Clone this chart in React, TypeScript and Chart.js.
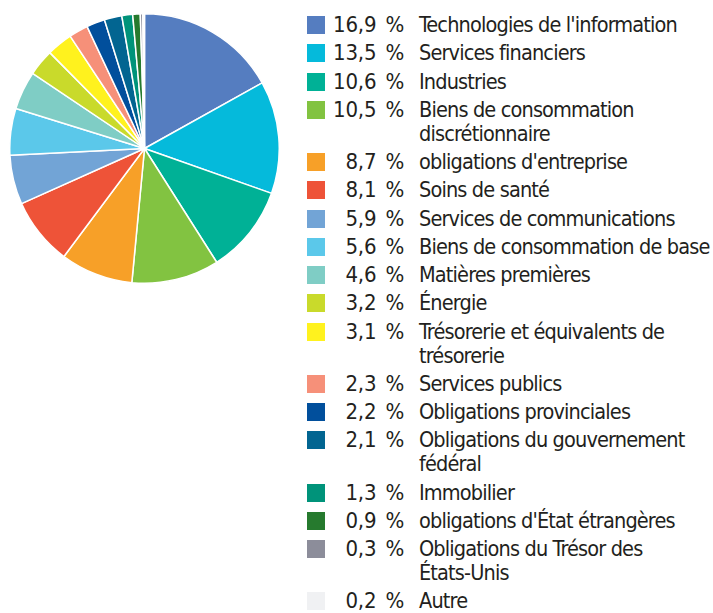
import React, { useEffect, useRef } from "react";
import { Chart, registerables } from "chart.js";

Chart.register(...registerables);

const categories: string[][] = [
  ["Technologies de l'information"],
  ["Services financiers"],
  ["Industries"],
  ["Biens de consommation", "discrétionnaire"],
  ["obligations d'entreprise"],
  ["Soins de santé"],
  ["Services de communications"],
  ["Biens de consommation de base"],
  ["Matières premières"],
  ["Énergie"],
  ["Trésorerie et équivalents de", "trésorerie"],
  ["Services publics"],
  ["Obligations provinciales"],
  ["Obligations du gouvernement", "fédéral"],
  ["Immobilier"],
  ["obligations d'État étrangères"],
  ["Obligations du Trésor des", "États-Unis"],
  ["Autre"],
];

const values: number[] = [
  16.9, 13.5, 10.6, 10.5, 8.7, 8.1, 5.9, 5.6, 4.6, 3.2, 3.1, 2.3, 2.2, 2.1, 1.3, 0.9, 0.3, 0.2,
];

const colors: string[] = [
  "#557DC0", "#05BADB", "#00B196", "#82C341", "#F7A028", "#EE5338",
  "#72A4D6", "#5BC8EA", "#7FCDC5", "#C9DA2B", "#FFF21E", "#F69079",
  "#014F9C", "#026591", "#00937A", "#267A2E", "#8C8D9A", "#F0F1F3",
];

const FONT = "'DejaVu Sans Condensed', 'DejaVu Sans', sans-serif";

function fmt(v: number): string {
  return v.toFixed(1).replace(".", ",") + " %";
}

export default function App() {
  const ref = useRef<HTMLCanvasElement | null>(null);

  useEffect(() => {
    if (!ref.current) return;
    const chart = new Chart(ref.current, {
      type: "pie",
      data: {
        labels: categories.map((c) => c.join(" ")),
        datasets: [
          {
            data: values,
            backgroundColor: colors,
            borderColor: "#ffffff",
            borderWidth: 1.5,
          },
        ],
      },
      options: {
        responsive: true,
        maintainAspectRatio: false,
        animation: false,
        layout: { padding: 0 },
        plugins: {
          legend: { display: false },
          tooltip: { enabled: false },
        },
      },
    });
    return () => chart.destroy();
  }, []);

  return (
    <div
      style={{
        position: "absolute",
        left: 0,
        top: 0,
        width: 713,
        height: 613,
        background: "#ffffff",
        fontFamily: FONT,
        color: "#231F20",
        overflow: "hidden",
      }}
    >
      <div style={{ position: "absolute", left: 9, top: 13, width: 271, height: 271 }}>
        <canvas ref={ref} />
      </div>
      <div style={{ position: "absolute", left: 307, top: 13, width: 406 }}>
        {categories.map((lines, i) => (
          <div key={i} style={{ display: "flex", alignItems: "flex-start", marginBottom: 4.25 }}>
            <div
              style={{
                width: 18,
                height: 18,
                marginTop: 3,
                background: colors[i],
                flex: "0 0 auto",
              }}
            />
            <div
              style={{
                width: 79,
                textAlign: "right",
                fontSize: 22,
                lineHeight: "24px",
                whiteSpace: "nowrap",
                letterSpacing: "-0.2px",
                wordSpacing: "3px",
                flex: "0 0 auto",
              }}
            >
              {fmt(values[i])}
            </div>
            <div
              style={{
                marginLeft: 15,
                fontSize: 21.5,
                lineHeight: "24px",
                whiteSpace: "nowrap",
                letterSpacing: "-0.85px",
              }}
            >
              {lines.map((l, j) => (
                <div key={j}>{l}</div>
              ))}
            </div>
          </div>
        ))}
      </div>
    </div>
  );
}
